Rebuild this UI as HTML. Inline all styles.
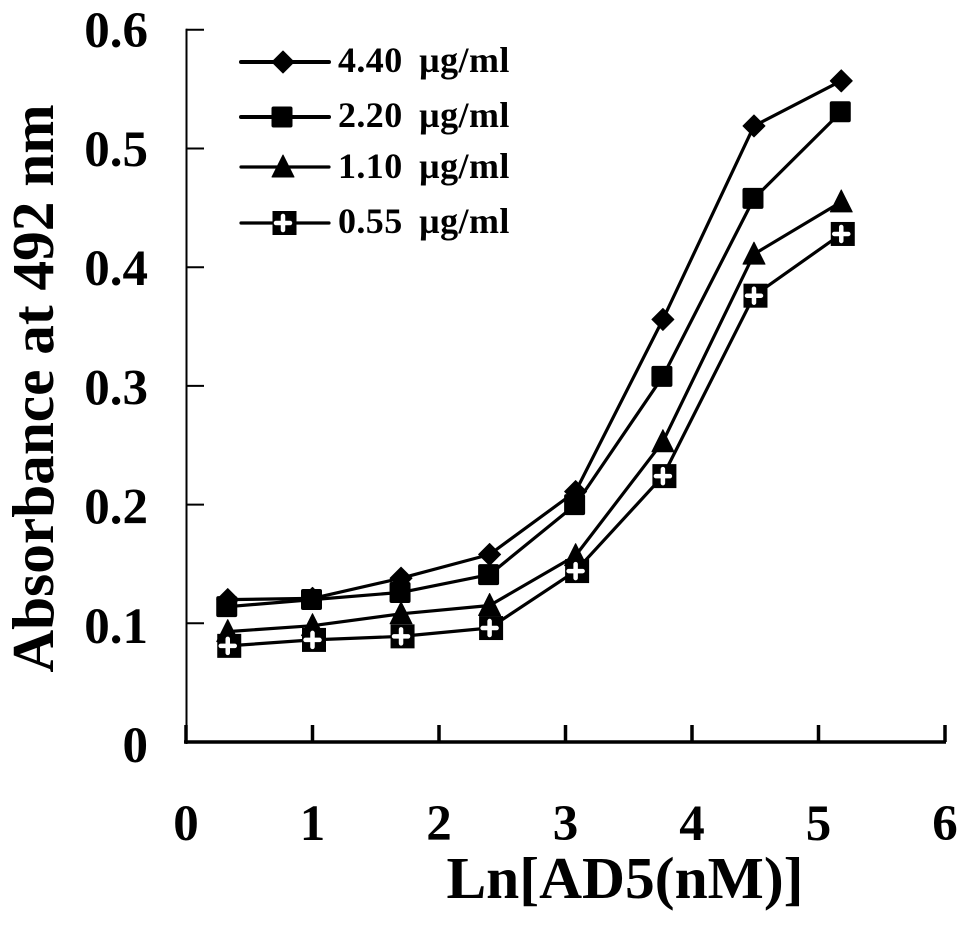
<!DOCTYPE html>
<html lang="en">
<head>
<meta charset="utf-8">
<title>Absorbance at 492 nm chart</title>
<style>
html,body{margin:0;padding:0;background:#fff;width:969px;height:925px;overflow:hidden}
svg{display:block}
text{font-family:"Liberation Serif",serif;font-weight:bold;fill:#000}
</style>
</head>
<body>
<svg id="chart" xmlns="http://www.w3.org/2000/svg" width="969" height="925" viewBox="0 0 969 925"></svg>
<script>
const xValues = [0.33, 1.0, 1.7, 2.4, 3.08, 3.77, 4.49, 5.18];
const seriesLabels = ['4.40 µg/ml', '2.20 µg/ml', '1.10 µg/ml', '0.55 µg/ml'];
const seriesA = [0.120, 0.121, 0.138, 0.158, 0.211, 0.356, 0.519, 0.557];
const seriesB = [0.114, 0.120, 0.126, 0.141, 0.200, 0.308, 0.458, 0.531];
const seriesC = [0.093, 0.098, 0.108, 0.115, 0.157, 0.253, 0.411, 0.455];
const seriesD = [0.081, 0.086, 0.089, 0.096, 0.144, 0.224, 0.376, 0.428];
const xTicks = [0, 1, 2, 3, 4, 5, 6];
const yTicks = [0, 0.1, 0.2, 0.3, 0.4, 0.5, 0.6];
const yTickLabels = ['0', '0.1', '0.2', '0.3', '0.4', '0.5', '0.6'];
const allSeries = [seriesA, seriesB, seriesC, seriesD];
const markerKinds = ['diamond', 'square', 'triangle', 'plus'];

const svg = document.getElementById('chart');
const NS = 'http://www.w3.org/2000/svg';
const xScale = v => 186 + v * 126.5;
const yScale = v => 742 - v * 1187;
const yLabelBaseline = v => 762 - v * 1192;

function make(tag, attrs, parent) {
  const el = document.createElementNS(NS, tag);
  for (const k in attrs) el.setAttribute(k, attrs[k]);
  (parent || svg).appendChild(el);
  return el;
}

function drawMarker(kind, cx, cy, parent) {
  if (kind === 'diamond') {
    make('path', {d: `M${cx} ${cy-11}L${cx+11} ${cy}L${cx} ${cy+11}L${cx-11} ${cy}Z`, fill: '#000', stroke: '#000', 'stroke-width': 1, 'stroke-linejoin': 'round'}, parent);
  } else if (kind === 'square') {
    make('rect', {x: cx-11.5, y: cy-10.5, width: 21, height: 21, rx: 2, fill: '#000'}, parent);
  } else if (kind === 'triangle') {
    make('path', {d: `M${cx} ${cy-12}L${cx+11} ${cy+10}L${cx-11} ${cy+10}Z`, fill: '#000', stroke: '#000', 'stroke-width': 1, 'stroke-linejoin': 'round'}, parent);
  } else {
    make('rect', {x: cx-10.5, y: cy-12, width: 24, height: 24, fill: '#000'}, parent);
    make('path', {d: `M${cx} ${cy-7}V${cy+7}M${cx-7} ${cy}H${cx+7}`, stroke: '#fff', 'stroke-width': 4.5, 'stroke-linecap': 'round', fill: 'none'}, parent);
  }
}

// Axes
const yAxis = make('line', {x1: 186.5, y1: yScale(0.6) - 1, x2: 186.5, y2: 744, stroke: '#000', 'stroke-width': 2});


const xAxis = make('line', {x1: 184, y1: 742, x2: 946, y2: 742, stroke: '#000', 'stroke-width': 3.5});



yTicks.forEach((t, i) => {
  if (t > 0) {
    const tick = make('line', {x1: 186, y1: yScale(t), x2: 204, y2: yScale(t), stroke: '#000', 'stroke-width': 2});
    
    
  }
  const lab = make('text', {x: 148, y: yLabelBaseline(t), 'text-anchor': 'end', 'font-size': 51});
  
  
  lab.textContent = yTickLabels[i];
});

xTicks.forEach(t => {
  const tick = make('line', {x1: xScale(t), y1: 725, x2: xScale(t), y2: 742, stroke: '#000', 'stroke-width': 3.5});
  
  
  const lab = make('text', {x: xScale(t), y: 840, 'text-anchor': 'middle', 'font-size': 51});
  
  
  lab.textContent = String(t);
});

// Series
allSeries.forEach((vals, s) => {
  const g = make('g', {});
  
  
  const pts = vals.map((v, i) => xScale(xValues[i]).toFixed(1) + ',' + yScale(v).toFixed(1)).join(' ');
  const line = make('polyline', {points: pts, fill: 'none', stroke: '#000', 'stroke-width': 3.2, 'stroke-linejoin': 'round'}, g);
  
  
  vals.forEach((v, i) => drawMarker(markerKinds[s], xScale(xValues[i]), yScale(v), g));
});

// Legend
const legendRowY = [62, 117, 167, 223];
const legendTextY = [72, 127, 178, 233];
seriesLabels.forEach((label, s) => {
  const g = make('g', {});
  
  
  const y = legendRowY[s];
  make('line', {x1: 241, y1: y, x2: 329, y2: y, stroke: '#000', 'stroke-width': s < 2 ? 4 : 3.2, 'stroke-linecap': 'round'}, g);
  drawMarker(markerKinds[s], 283, y, g);
  const t = make('text', {x: 338, y: legendTextY[s], 'font-size': 36, 'word-spacing': 7, 'letter-spacing': 0.4}, g);
  t.textContent = label;
});

// Titles
const yTitle = make('text', {x: 0, y: 0, transform: 'translate(53 388.5) rotate(-90)', 'text-anchor': 'middle', 'font-size': 59.3});


yTitle.textContent = 'Absorbance at 492 nm';
const xTitle = make('text', {x: 625, y: 898, 'text-anchor': 'middle', 'font-size': 59.5});


xTitle.textContent = 'Ln[AD5(nM)]';
</script>
</body>
</html>
